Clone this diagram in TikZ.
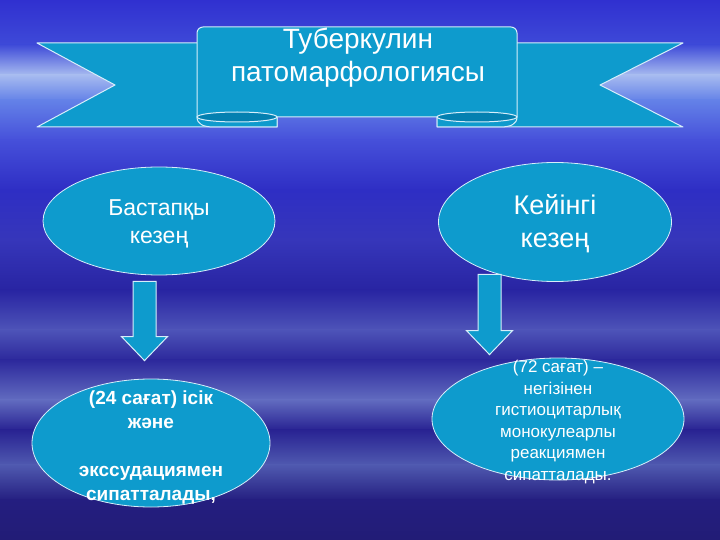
\documentclass[tikz,border=0pt]{standalone}
\usepackage{fontspec}
\setmainfont{Liberation Sans}
\usetikzlibrary{shapes.geometric,calc,positioning}
\definecolor{kezfill}{RGB}{14,155,205}
\definecolor{curlfill}{RGB}{4,128,176}
\definecolor{edge}{RGB}{215,238,250}
\definecolor{skyA}{RGB}{48,48,208}
\definecolor{skyB}{RGB}{62,74,216}
\definecolor{skyC}{RGB}{168,188,240}
\definecolor{skyD}{RGB}{100,130,232}
\definecolor{skyE}{RGB}{70,80,218}
\definecolor{skyF}{RGB}{46,46,196}
\definecolor{skyG}{RGB}{54,54,186}
\definecolor{skyH}{RGB}{40,36,162}
\definecolor{skyI}{RGB}{78,84,184}
\definecolor{skyJ}{RGB}{44,40,156}
\definecolor{skyK}{RGB}{98,108,192}
\definecolor{skyL}{RGB}{40,34,146}
\definecolor{skyM}{RGB}{80,90,176}
\definecolor{skyN}{RGB}{36,30,128}
\definecolor{skyO}{RGB}{34,28,118}
\tikzset{
    %Define the look of the stage ellipses
    kezen/.style={
      ellipse,
      draw=edge, line width=0.8pt,
      fill=kezfill,
      inner sep=0pt},
    kaztext/.style={
      text=white,
      align=center,
      inner sep=0pt},
    ribbon/.style={
      draw=edge, line width=1pt,
      fill=kezfill,
      line join=round},
    blockarrow/.style={
      draw=edge, line width=1pt,
      fill=kezfill,
      line join=miter}
}
% block arrow pointing down from #1 to #2
\newcommand{\blockdown}[2]{
  \path[blockarrow] ($(#1)+(-11.5,0)$) -- ($(#2)+(-11.5,-24)$)
    -- ($(#2)+(-23,-24)$) -- (#2) -- ($(#2)+(23,-24)$)
    -- ($(#2)+(11.5,-24)$) -- ($(#1)+(11.5,0)$) -- cycle;
}

\begin{document}
\begin{tikzpicture}[x=1pt,y=-1pt]
\useasboundingbox (0,0) rectangle (720,540);
% sky
\foreach \ya/\ca/\yb/\cb in {0/skyA/45/skyB, 45/skyB/75/skyC, 75/skyC/100/skyD,
    100/skyD/140/skyE, 140/skyE/190/skyF, 190/skyF/240/skyG, 240/skyG/290/skyH,
    290/skyH/330/skyI, 330/skyI/360/skyJ, 360/skyJ/400/skyK, 400/skyK/430/skyL,
    430/skyL/465/skyM, 465/skyM/500/skyN, 500/skyN/540/skyO}
  \fill[top color=\ca, bottom color=\cb] (-1,\ya-0.5) rectangle (721,\yb+0.5);

% banner
\path[ribbon] (200,43) -- (37,43) -- (115,85) -- (37,127) -- (277,127)
  -- (277,110) -- (200,110) -- cycle;
\path[ribbon] (514,43) -- (683,43) -- (600,85) -- (683,127) -- (437,127)
  -- (437,110) -- (514,110) -- cycle;
\path[ribbon] (197,117) -- (197,40) [rounded corners=6] -- (197,27) -- (517,27)
  -- (517,40) [sharp corners] -- (517,117) -- cycle;
\path[ribbon] (197,117) .. controls (197,124) and (203,127) .. (214,127)
  -- (277,127) -- (277,117) -- cycle;
\path[ribbon] (517,117) .. controls (517,124) and (511,127) .. (500,127)
  -- (437,127) -- (437,117) -- cycle;
\path[ribbon, fill=curlfill] (237,117) ellipse [x radius=40pt, y radius=5pt];
\path[ribbon, fill=curlfill] (477,117) ellipse [x radius=40pt, y radius=5pt];
\node[kaztext, font=\fontsize{28}{33}\selectfont] (title) at (358,58)
  {Туберкулин\\патомарфологиясы};

% stages
\node[kezen, minimum width=232, minimum height=108] (bast) at (159,221) {};
\node[kezen, minimum width=233, minimum height=119] (keyin) at (555,222) {};
\node[kezen, minimum width=238, minimum height=128] (bastnote) at (151,443) {};
\node[kezen, minimum width=252, minimum height=122] (keyinnote) at (558,419) {};

\coordinate (ba1) at ($(bast.south)+(-14.5,6)$);
\coordinate (ba2) at ($(bastnote.north)+(-6.5,-18)$);
\coordinate (ke1) at ($(keyin.south)+(-65.5,-7.5)$);
\coordinate (ke2) at ($(keyinnote.north)+(-68.5,-3)$);
\blockdown{ba1}{ba2}
\blockdown{ke1}{ke2}

\node[kaztext, font=\fontsize{23}{28}\selectfont] at ($(bast)+(0,3)$)
  {Бастапқы\\кезең};
\node[kaztext, font=\fontsize{27}{33}\selectfont] at ($(keyin)+(0,2)$)
  {Кейінгі\\кезең};
\node[kaztext, font=\fontsize{19}{24}\bfseries] at ($(bastnote)+(0,5)$)
  {(24 сағат) ісік\\және\\[24pt]экссудациямен\\сипатталады,};
\node[kaztext, font=\fontsize{17}{21.6}\selectfont] at ($(keyinnote)+(0,3)$)
  {(72 сағат) --\\негізінен\\гистиоцитарлық\\монокулеарлы\\реакциямен\\сипатталады.};
\end{tikzpicture}
\end{document}
